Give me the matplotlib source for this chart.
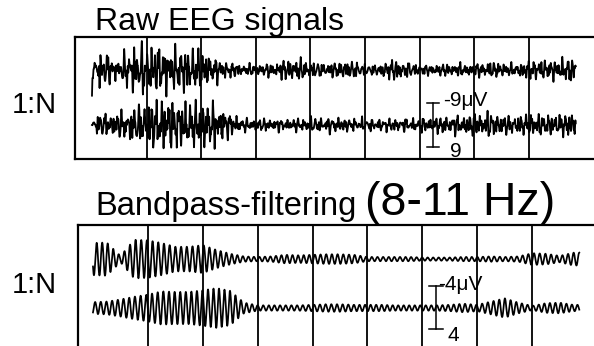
import numpy as np
import matplotlib
matplotlib.use("Agg")
import matplotlib.pyplot as plt

plt.rcParams['font.family'] = ['Liberation Sans', 'DejaVu Sans']

W, H = 594, 346

# amplitude envelopes (uV), one value every quarter second from t = 0
env_t = np.arange(36) * 0.25
raw_ch1 = [7.0, 5.0, 3.0, 8.0, 7.5, 7.5, 7.0, 7.0, 6.0, 4.0, 2.5, 1.7,
           1.7, 2.0, 3.0, 3.5, 2.5, 2.0, 2.5, 2.8, 1.8, 1.6, 3.5, 2.5,
           1.6, 1.6, 1.9, 2.0, 1.8, 2.5, 2.3, 1.8, 3.0, 3.0, 3.2, 4.0]
raw_ch2 = [3.0, 3.5, 4.0, 5.5, 7.0, 8.5, 8.0, 7.0, 7.5, 7.0, 4.0, 2.0,
           1.8, 2.0, 1.8, 2.0, 2.2, 2.4, 2.3, 2.0, 2.0, 1.8, 2.0, 2.0,
           2.2, 2.3, 2.8, 3.0, 3.5, 4.0, 3.2, 2.8, 3.5, 3.5, 3.2, 4.0]
alpha_ch1 = [3.0, 3.1, 0.6, 3.6, 3.5, 3.0, 2.3, 2.3, 2.6, 1.7, 1.0, 0.5,
             0.4, 0.5, 0.8, 0.7, 0.8, 0.9, 0.9, 0.8, 0.4, 0.4, 0.4, 0.4,
             0.3, 0.3, 0.3, 0.4, 0.4, 0.5, 0.4, 0.5, 1.1, 1.0, 0.6, 1.2]
alpha_ch2 = [1.1, 1.2, 1.6, 2.1, 2.5, 3.1, 3.0, 3.0, 3.3, 3.7, 3.2, 1.0,
             0.5, 0.5, 0.5, 0.5, 0.6, 0.7, 0.7, 0.6, 0.6, 0.6, 0.5, 0.5,
             0.5, 0.5, 0.6, 0.8, 0.6, 1.2, 1.8, 1.0, 0.4, 0.9, 1.0, 0.6]

trace_end = 8.86
fs = 400
t = np.arange(0, trace_end, 1.0 / fs)

# spectral make-up of the unfiltered carrier: (Hz, weight)
raw_components = [(9.6, 0.45), (12.7, 0.3), (16.1, 0.35), (21.3, 0.3),
                  (27.9, 0.28), (34.3, 0.22), (41.7, 0.18), (47.9, 0.14)]


def alpha_wave(t, phase):
    wobble = 0.6 * np.sin(2 * np.pi * 0.31 * t + phase)
    return np.sin(2 * np.pi * 9.8 * t + wobble + phase)


def raw_wave(t, phase):
    y = sum(a * np.sin(2 * np.pi * f * t + phase * (k + 1.3))
            for k, (f, a) in enumerate(raw_components))
    return y / np.percentile(np.abs(y), 90)


def fig_box(left, top, right, bottom):
    """Pixel box -> figure fraction rect."""
    return [left / W, 1 - bottom / H, (right - left) / W, (bottom - top) / H]


def draw_panel(ax, bar, tick_hw):
    # one-second grid
    for sec in range(1, 9):
        ax.axvline(sec, color='k', lw=1.3)
    ax.spines['right'].set_visible(False)
    for s in ('top', 'left', 'bottom'):
        ax.spines[s].set_linewidth(1.6)
    ax.set_xticks([])
    ax.set_yticks([])
    ax.patch.set_alpha(0)
    # calibration bar
    ax.plot([6.25, 6.25], [-bar, bar], color='k', lw=1.1)
    for y in (-bar, bar):
        ax.plot([6.25 - tick_hw, 6.25 + tick_hw], [y, y], color='k', lw=1.1)


fig = plt.figure(figsize=(W / 100, H / 100), dpi=100)

# raw EEG panel: 54.6 px/s, 2.39 px/uV
ax1 = fig.add_axes(fig_box(75, 36.5, 600, 159))
ax1.set_xlim(-0.311, (600 - 92) / 54.6)
ax1.set_ylim(14.2, -37.0)
draw_panel(ax1, 9, 0.11)
ax1.plot(t, -23.0 + np.interp(t, env_t, raw_ch1) * raw_wave(t, 0.4), color='k', lw=1.3)
ax1.plot(t, np.interp(t, env_t, raw_ch2) * raw_wave(t, 2.1), color='k', lw=1.3)
ax1.text(6.43, -8.0, '-9\u03bcV', fontsize=15, va='baseline')
ax1.text(6.56, 13.4, '9', fontsize=15, va='baseline')

# bandpass panel: 54.9 px/s, 5.375 px/uV
ax2 = fig.add_axes(fig_box(78, 225, 600, 346))
ax2.set_xlim(-0.273, (600 - 93) / 54.9)
ax2.set_ylim(7.07, -15.44)
draw_panel(ax2, 4, 0.13)
ax2.spines['bottom'].set_visible(False)
ax2.plot(t, -9.1 + np.interp(t, env_t, alpha_ch1) * alpha_wave(t, 0.3), color='k', lw=1.25)
ax2.plot(t, np.interp(t, env_t, alpha_ch2) * alpha_wave(t, 1.7), color='k', lw=1.25)
ax2.text(6.28, -3.35, '-4\u03bcV', fontsize=15, va='baseline')
ax2.text(6.45, 6.85, '4', fontsize=15, va='bottom')


def px_text(x, y, s, size):
    fig.text(x / W, 1 - y / H, s, fontsize=size, va='baseline', ha='left')


px_text(95, 30, 'Raw EEG signals', 23)
px_text(95, 215, 'Bandpass-filtering', 23.5)
px_text(365, 215, '(8-11 Hz)', 33.5)
px_text(12, 113, '1:N', 21)
px_text(12, 293, '1:N', 21)

fig.savefig('out.png', dpi=100)
